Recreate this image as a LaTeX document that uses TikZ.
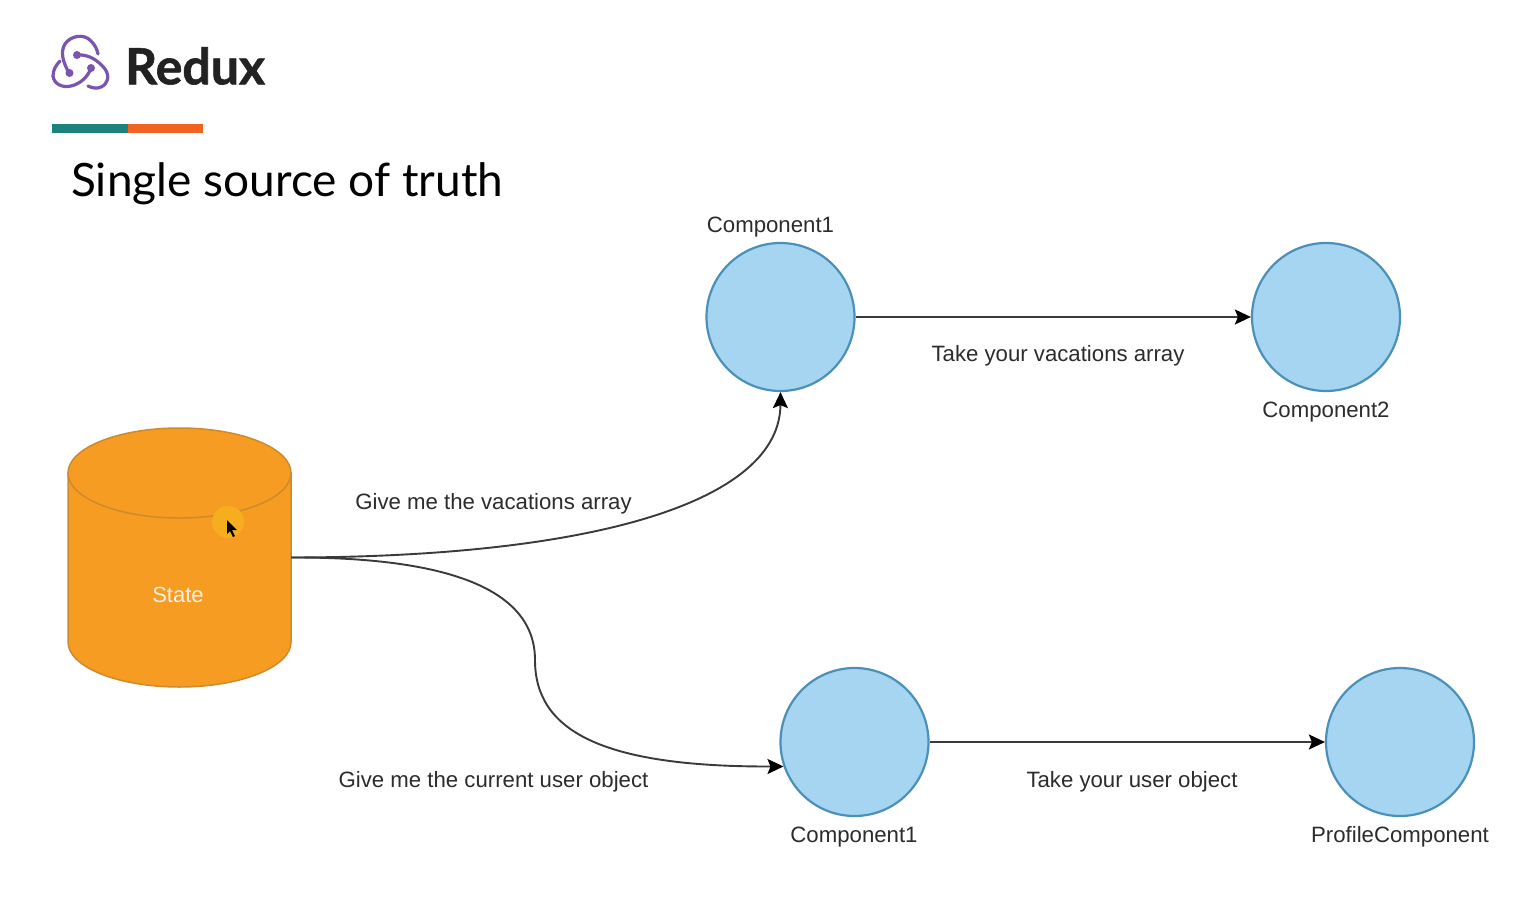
\documentclass[tikz,border=0pt]{standalone}
\usepackage{fontspec}
\setmainfont{Liberation Sans}
\newfontfamily\latofont{Lato}
\newfontfamily\brandfont[BoldFeatures={FakeBold=1.2}]{Lato}
\usetikzlibrary{arrows.meta}
\definecolor{circfill}{HTML}{A5D5F0}
\definecolor{circline}{HTML}{4A90B8}
\definecolor{cylfill}{HTML}{F69C23}
\definecolor{cylline}{HTML}{CF8A2C}
\definecolor{logopurple}{HTML}{7A55B0}
\definecolor{tealbar}{HTML}{1E827C}
\definecolor{orangebar}{HTML}{F26322}
\definecolor{linegray}{HTML}{3A3A3A}
\definecolor{txt}{HTML}{2C2C2C}
\definecolor{brandtxt}{HTML}{222222}
\definecolor{pointerglow}{HTML}{F7AE1E}
\tikzset{
  x=1pt,y=-1pt,
  ball/.style={circle,draw=circline,fill=circfill,line width=2.2pt,minimum size=148pt,inner sep=0pt},
  lbl/.style={font=\fontsize{22.2}{24}\selectfont,text=txt,inner sep=0pt,anchor=center},
  conn/.style={draw=linegray,line width=1.9pt,-{Stealth[length=16pt,width=15pt,inset=3pt,color=black]}},
  logoline/.style={draw=logopurple,line width=3.2pt,line cap=round}
}
\begin{document}
\begin{tikzpicture}
\useasboundingbox (0,0) rectangle (1537,905);
\fill[white] (0,0) rectangle (1537,905);
% logo
\draw[logoline] (69,73) .. controls (63,62) and (60,52) .. (65,44) .. controls (70,36) and (84,33) .. (91,41) .. controls (95,45) and (97,49) .. (98,54);
\draw[logoline] (77,55) .. controls (88,54) and (98,60) .. (105,69) .. controls (110,76) and (108,84) .. (101,87) .. controls (97,89) and (92,88) .. (88,86);
\draw[logoline] (91,68) .. controls (88,77) and (80,84) .. (71,86) .. controls (62,88) and (54,84) .. (53,76) .. controls (53,70) and (56,65) .. (60,61);
\fill[logopurple] (77,55) circle (4pt) (69.5,73) circle (4pt) (91,68) circle (4pt);
\node[font=\brandfont\bfseries\fontsize{50}{52}\selectfont,text=brandtxt,inner sep=0pt,anchor=west] (brand) at (125,66) {Redux};
% bar
\fill[tealbar] (52,124) rectangle (128,133);
\fill[orangebar] (128,124) rectangle (203,133);
\node[font=\latofont\fontsize{46}{50}\selectfont,text=black,inner sep=0pt,anchor=west] (title) at (71,184) {Single source of truth};
% cylinder
\path[fill=cylfill,draw=cylline,line width=1.5pt] (68,473) -- (68,642) arc[x radius=111.5,y radius=45,start angle=180,end angle=0] -- (291,473) -- cycle;
\path[fill=cylfill,draw=cylline,line width=1.5pt] (179.5,473) ellipse[x radius=111.5,y radius=45];
\node[minimum width=223pt,minimum height=259pt,inner sep=0pt] (state) at (179.5,557.5) {};
\node[font=\fontsize{22}{24}\selectfont,text=white!90!orange,inner sep=0pt] (statelbl) at (178,595) {State};
% pointer highlight
\fill[pointerglow] (228,522) circle (16pt);
\fill[black] (227,520) -- (227,534) -- (230,531) -- (233,537) -- (235,536) -- (232,530) -- (237,530) -- cycle;
% circles
\node[ball] (c1) at (780.5,317) {};
\node[ball] (c2) at (1326,317) {};
\node[ball] (c3) at (854.5,742) {};
\node[ball] (c4) at (1400,742) {};
% connectors
\draw[conn] (c1) -- (c2);
\draw[conn] (c3) -- (c4);
\draw[conn] (state.east) .. controls (600,557) and (780,500) .. (c1.south);
\coordinate (mid) at (535,660);
\draw[conn] (state.east) .. controls (450,557) and (535,590) .. (mid) .. controls (535,730) and (600,767) .. (c3.199);
% labels
\node[lbl] (l1) at (770.5,227) {Component1};
\node[lbl] (l2) at (1326,412) {Component2};
\node[lbl] (l3) at (854,837) {Component1};
\node[lbl] (l4) at (1400,837) {ProfileComponent};
\node[lbl] (t1) at (1058,356) {Take your vacations array};
\node[lbl] (t2) at (493.5,504) {Give me the vacations array};
\node[lbl] (t3) at (493.5,782) {Give me the current user object};
\node[lbl] (t4) at (1132,782) {Take your user object};
\end{tikzpicture}
\end{document}
